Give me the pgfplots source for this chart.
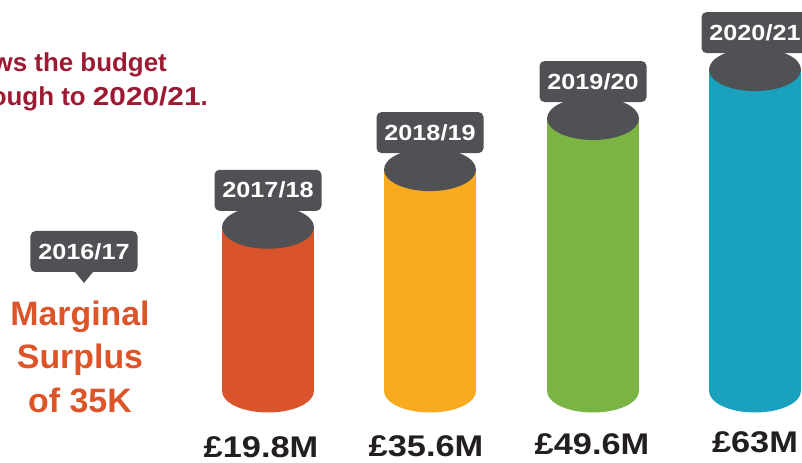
\documentclass[border=0pt]{standalone}
\usepackage{pgfplots}
\pgfplotsset{compat=1.18}
\usepackage{fontspec}
\setmainfont{Liberation Sans}
\newfontfamily\numfont[FakeStretch=1.15]{Liberation Sans}
\definecolor{cOr}{HTML}{D9542A}
\definecolor{cYe}{HTML}{F8AB1F}
\definecolor{cGr}{HTML}{7AB543}
\definecolor{cBl}{HTML}{1AA1BD}
\definecolor{cDk}{HTML}{505154}
\definecolor{cRd}{HTML}{9C1B32}
\definecolor{cTx}{HTML}{DC5428}
\definecolor{cBk}{HTML}{231F20}
\pgfdeclareplotmark{cylend}{\pgfpathellipse{\pgfpointorigin}{\pgfpoint{46bp}{0bp}}{\pgfpoint{0bp}{21.5bp}}\pgfusepath{fill}}
\tikzset{yearbox/.style={fill=cDk, text=white, rounded corners=5bp, minimum width=107bp, minimum height=41bp, inner sep=0pt, font=\numfont\bfseries\fontsize{22}{22}\selectfont}}
\pgfplotsset{val/.style={y filter/.expression={3.65*y+91.45}}}
\newcommand{\cyl}[4]{%
  \addplot[only marks, mark=cylend, color=#3] coordinates {(#1,0)};
  \addplot[ybar, bar width=92, fill=#3, draw=none, val] coordinates {(#1,#2)};
  \addplot[only marks, mark=cylend, color=cDk, val, nodes near coords={#4},
    every node near coord/.style={yearbox, anchor=center, yshift=37bp}] coordinates {(#1,#2)};
}
\begin{document}
\begin{tikzpicture}
\begin{axis}[scale only axis, width=802bp, height=463bp, xmin=0, xmax=802, ymin=-72, ymax=391, hide axis, clip=false]
\coordinate (SW) at (rel axis cs:0,0);
\coordinate (NE) at (rel axis cs:1,1);
\cyl{268}{19.8}{cOr}{2017/18}
\cyl{430}{35.6}{cYe}{2018/19}
\cyl{593}{49.6}{cGr}{2019/20}
\cyl{755}{63}{cBl}{2020/21}
% value labels
\node[anchor=base, text=cBk, font=\numfont\bfseries\fontsize{30}{30}\selectfont] at (axis cs:261,-67) {£19.8M};
\node[anchor=base, text=cBk, font=\numfont\bfseries\fontsize{30}{30}\selectfont] at (axis cs:426,-66) {£35.6M};
\node[anchor=base, text=cBk, font=\numfont\bfseries\fontsize{30}{30}\selectfont] at (axis cs:592,-64) {£49.6M};
\node[anchor=base, text=cBk, font=\numfont\bfseries\fontsize{30}{30}\selectfont] at (axis cs:755,-62) {£63M};
% 2016/17
\node[yearbox] at (axis cs:84,139.5) {2016/17};
\fill[cDk] (axis cs:75,119) -- (axis cs:84,108) -- (axis cs:93,119) -- cycle;
\node[anchor=base, text=cTx, font=\bfseries\fontsize{34}{34}\selectfont] at (axis cs:80,65) {Marginal};
\node[anchor=base, text=cTx, font=\bfseries\fontsize{34}{34}\selectfont] at (axis cs:80,22) {Surplus};
\node[anchor=base, text=cTx, font=\bfseries\fontsize{34}{34}\selectfont] at (axis cs:80,-22) {of 35K};
% title fragment
\node[anchor=base east, text=cRd, font=\bfseries\fontsize{26}{26}\selectfont, inner sep=0pt] at (axis cs:167,319) {This shows the budget};
\node[anchor=base east, text=cRd, font=\bfseries\fontsize{26}{26}\selectfont, inner sep=0pt] at (axis cs:208,285) {through to {\numfont 2020/21}.};
\end{axis}
\pgfresetboundingbox
\useasboundingbox (SW) rectangle (NE);
\end{tikzpicture}
\end{document}
